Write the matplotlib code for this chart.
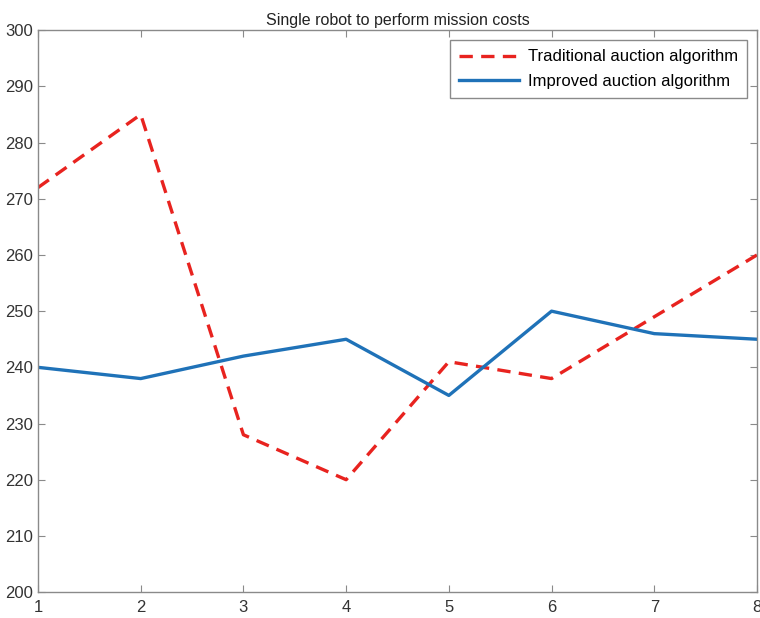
import matplotlib.pyplot as plt
from matplotlib import font_manager

names = {f.name for f in font_manager.fontManager.ttflist}
fam = 'Liberation Sans Narrow' if 'Liberation Sans Narrow' in names else 'Liberation Sans'
plt.rcParams['font.family'] = [fam, 'DejaVu Sans']

robots = [1, 2, 3, 4, 5, 6, 7, 8]
traditional = [272, 285, 228, 220, 241, 238, 249, 260]
improved = [240, 238, 242, 245, 235, 250, 246, 245]

fig = plt.figure(figsize=(7.6, 6.18), dpi=100)
ax = fig.add_axes([0.05, 0.042, 0.946, 0.909])

ax.plot(robots, traditional, color='#e8231f', linestyle=(0, (4, 2.5)), linewidth=2.4,
        label='Traditional auction algorithm')
ax.plot(robots, improved, color='#1f72b8', linewidth=2.4,
        label='Improved auction algorithm')

ax.set_xlim(1, 8)
ax.set_ylim(200, 300)
ax.set_xticks(robots)
ax.set_yticks(range(200, 301, 10))
ax.set_title('Single robot to perform mission costs', fontsize=11.5, pad=4, color='#222222')

for s in ax.spines.values():
    s.set_color('#8a8a8a')
    s.set_linewidth(1.0)
ax.tick_params(direction='in', top=True, right=True, length=5, width=0.8,
               colors='#8a8a8a', labelcolor='#333333', labelsize=12)
ax.tick_params(axis='x', pad=6)

leg = ax.legend(loc='upper right', fontsize=12, fancybox=False, framealpha=1,
                edgecolor='#8a8a8a', handlelength=3.6, handletextpad=0.5,
                borderaxespad=0.6, labelspacing=0.55, borderpad=0.55)
leg.get_frame().set_linewidth(1.0)

fig.savefig('out.png', dpi=100)
